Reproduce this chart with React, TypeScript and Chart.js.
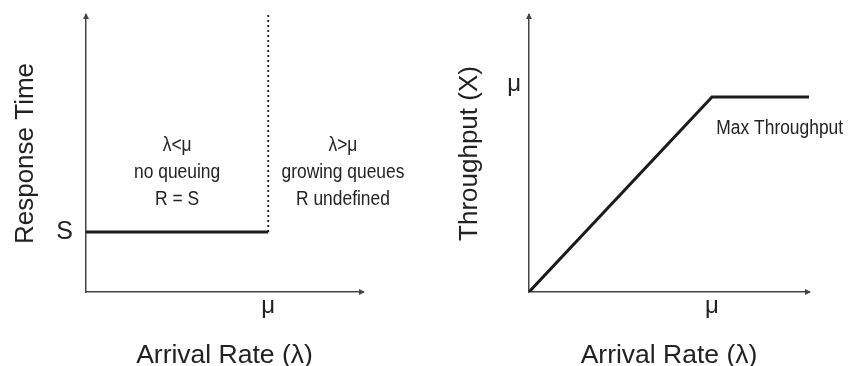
import React, { useEffect, useRef } from "react";
import { Chart, registerables } from "chart.js";

Chart.register(...registerables);

// ---- Data (normalised units: S = 1, μ = 1) ----
const S = 1;
const MU = 1;
const leftXMax = 1.52;
const leftYMax = 4.62;
const rightXMax = 1.53;
const rightYMax = 1.42;

// Left chart: response time vs arrival rate
const respX = [0, MU];
const respY = [S, S];
const limitX = [MU, MU];
const limitY = [S, leftYMax];

// Right chart: throughput vs arrival rate
const thrX = [0, MU, rightXMax];
const thrY = [0, MU, MU];

// Tick labels / titles / annotation text
const leftXTickLabel = "μ";
const leftYTickLabel = "S";
const rightXTickLabel = "μ";
const rightYTickLabel = "μ";
const xTitle = "Arrival Rate (λ)";
const leftYTitle = "Response Time";
const rightYTitle = "Throughput (X)";
const leftNote = ["λ<μ", "no queuing", "R = S"];
const rightNote = ["λ>μ", "growing queues", "R undefined"];
const maxNote = ["Max Throughput"];

// Annotation anchors (data units)
const leftNoteAnchor = { x: 0.5, y: 2.0 };
const rightNoteAnchor = { x: 1.41, y: 2.0 };
const maxNoteAnchor = { x: 1.37, y: 0.836 };

const AXIS_COLOR = "#444";
const LINE_COLOR = "#1c1c1c";
const TEXT_COLOR = "#222";
const MAIN_FONT = "'Liberation Sans', Arial, Helvetica, sans-serif";

const arrowPlugin = {
  id: "axisArrows",
  afterDraw(chart: any) {
    const { ctx, chartArea } = chart;
    ctx.save();
    ctx.fillStyle = AXIS_COLOR;
    const x0 = chartArea.left;
    const yTop = chartArea.top;
    ctx.beginPath();
    ctx.moveTo(x0, yTop - 2);
    ctx.lineTo(x0 - 3, yTop + 4);
    ctx.lineTo(x0 + 3, yTop + 4);
    ctx.closePath();
    ctx.fill();
    const y0 = chartArea.bottom;
    const xR = chartArea.right;
    ctx.beginPath();
    ctx.moveTo(xR + 2, y0);
    ctx.lineTo(xR - 4, y0 - 3);
    ctx.lineTo(xR - 4, y0 + 3);
    ctx.closePath();
    ctx.fill();
    ctx.restore();
  },
};

// Condensed text drawn by squeezing a regular sans horizontally
const notesPlugin = {
  id: "notes",
  afterDraw(chart: any, _args: any, opts: any) {
    const { ctx, scales } = chart;
    const notes = opts.notes || [];
    const squeeze = opts.squeeze || 0.87;
    ctx.save();
    ctx.fillStyle = TEXT_COLOR;
    ctx.textAlign = "center";
    ctx.textBaseline = "middle";
    ctx.font = `${opts.size || 20}px ${MAIN_FONT}`;
    for (const n of notes) {
      const cx = scales.x.getPixelForValue(n.anchor.x);
      const cy = scales.y.getPixelForValue(n.anchor.y);
      const mid = (n.lines.length - 1) / 2;
      n.lines.forEach((t: string, i: number) => {
        ctx.save();
        ctx.translate(cx, cy + (i - mid) * (opts.spacing || 27));
        ctx.scale(squeeze, 1);
        ctx.fillText(t, 0, 0);
        ctx.restore();
      });
    }
    ctx.restore();
  },
};

function makeScales(cfg: any) {
  return {
    x: {
      type: "linear",
      min: 0,
      max: cfg.xMax,
      grid: { display: false, drawTicks: false },
      border: { display: true, color: AXIS_COLOR, width: 1.5 },
      afterBuildTicks: (s: any) => {
        s.ticks = [{ value: MU }];
      },
      afterFit: (s: any) => {
        s.height = 74;
        s.paddingLeft = 0;
        s.paddingRight = 0;
      },
      ticks: {
        autoSkip: false,
        maxRotation: 0,
        padding: 0,
        color: TEXT_COLOR,
        font: { family: MAIN_FONT, size: 24 },
        callback: () => cfg.xTick,
      },
      title: {
        display: true,
        text: xTitle,
        color: TEXT_COLOR,
        font: { family: MAIN_FONT, size: 26.5, lineHeight: 0.8 },
        padding: { top: 0, bottom: 0 },
      },
    },
    y: {
      type: "linear",
      min: 0,
      max: cfg.yMax,
      grid: { display: false, drawTicks: false },
      border: { display: true, color: AXIS_COLOR, width: 1.5 },
      afterBuildTicks: (s: any) => {
        s.ticks = [{ value: cfg.yTickValue }];
      },
      afterFit: (s: any) => {
        s.width = cfg.yWidth;
        s.paddingTop = 0;
        s.paddingBottom = 0;
      },
      ticks: {
        autoSkip: false,
        padding: cfg.yTickPad,
        labelOffset: cfg.yLabelOffset,
        color: TEXT_COLOR,
        font: { family: MAIN_FONT, size: cfg.yTickSize },
        callback: () => cfg.yTick,
      },
      title: {
        display: true,
        text: cfg.yTitle,
        color: TEXT_COLOR,
        font: { family: MAIN_FONT, size: 26, lineHeight: 1.2 },
        padding: { top: cfg.yTitlePad, bottom: 0 },
      },
    },
  };
}

function toPoints(xs: number[], ys: number[]) {
  return xs.map((x, i) => ({ x, y: ys[i] }));
}

function LeftChart() {
  const ref = useRef<HTMLCanvasElement>(null);
  useEffect(() => {
    const chart = new Chart(ref.current as HTMLCanvasElement, {
      type: "line",
      data: {
        datasets: [
          {
            data: toPoints(respX, respY),
            borderColor: LINE_COLOR,
            borderWidth: 3,
            pointRadius: 0,
            fill: false,
          },
          {
            data: toPoints(limitX, limitY),
            borderColor: LINE_COLOR,
            borderWidth: 1.8,
            borderDash: [2, 3],
            pointRadius: 0,
            fill: false,
          },
        ],
      },
      options: {
        animation: false,
        responsive: false,
        maintainAspectRatio: false,
        layout: { padding: { top: 15, right: 61, bottom: 0, left: 0 } },
        plugins: {
          legend: { display: false },
          tooltip: { enabled: false },
          notes: {
            size: 20,
            spacing: 27,
            squeeze: 0.87,
            notes: [
              { anchor: leftNoteAnchor, lines: leftNote },
              { anchor: rightNoteAnchor, lines: rightNote },
            ],
          },
        } as any,
        scales: makeScales({
          xMax: leftXMax,
          yMax: leftYMax,
          xTick: leftXTickLabel,
          yTick: leftYTickLabel,
          yTickValue: S,
          yTickSize: 25,
          yWidth: 86,
          yTickPad: 13,
          yLabelOffset: 0,
          yTitle: leftYTitle,
          yTitlePad: 10,
        }) as any,
      },
      plugins: [arrowPlugin, notesPlugin],
    });
    return () => chart.destroy();
  }, []);
  return <canvas ref={ref} width={424} height={366} style={{ display: "block" }} />;
}

function RightChart() {
  const ref = useRef<HTMLCanvasElement>(null);
  useEffect(() => {
    const chart = new Chart(ref.current as HTMLCanvasElement, {
      type: "line",
      data: {
        datasets: [
          {
            data: toPoints(thrX, thrY),
            borderColor: LINE_COLOR,
            borderWidth: 3,
            pointRadius: 0,
            fill: false,
          },
        ],
      },
      options: {
        animation: false,
        responsive: false,
        maintainAspectRatio: false,
        layout: { padding: { top: 15, right: 39, bottom: 0, left: 0 } },
        plugins: {
          legend: { display: false },
          tooltip: { enabled: false },
          notes: {
            size: 20,
            spacing: 27,
            squeeze: 0.87,
            notes: [{ anchor: maxNoteAnchor, lines: maxNote }],
          },
        } as any,
        scales: makeScales({
          xMax: rightXMax,
          yMax: rightYMax,
          xTick: rightXTickLabel,
          yTick: rightYTickLabel,
          yTickValue: MU,
          yTickSize: 24,
          yWidth: 105,
          yTickPad: 8,
          yLabelOffset: -13,
          yTitle: rightYTitle,
          yTitlePad: 30,
        }) as any,
      },
      plugins: [arrowPlugin, notesPlugin],
    });
    return () => chart.destroy();
  }, []);
  return <canvas ref={ref} width={424} height={366} style={{ display: "block" }} />;
}

export default function App() {
  return (
    <div
      style={{
        position: "fixed",
        left: 0,
        top: 0,
        width: 848,
        height: 366,
        background: "#fff",
        display: "flex",
        flexDirection: "row",
      }}
    >
      <LeftChart />
      <RightChart />
    </div>
  );
}
